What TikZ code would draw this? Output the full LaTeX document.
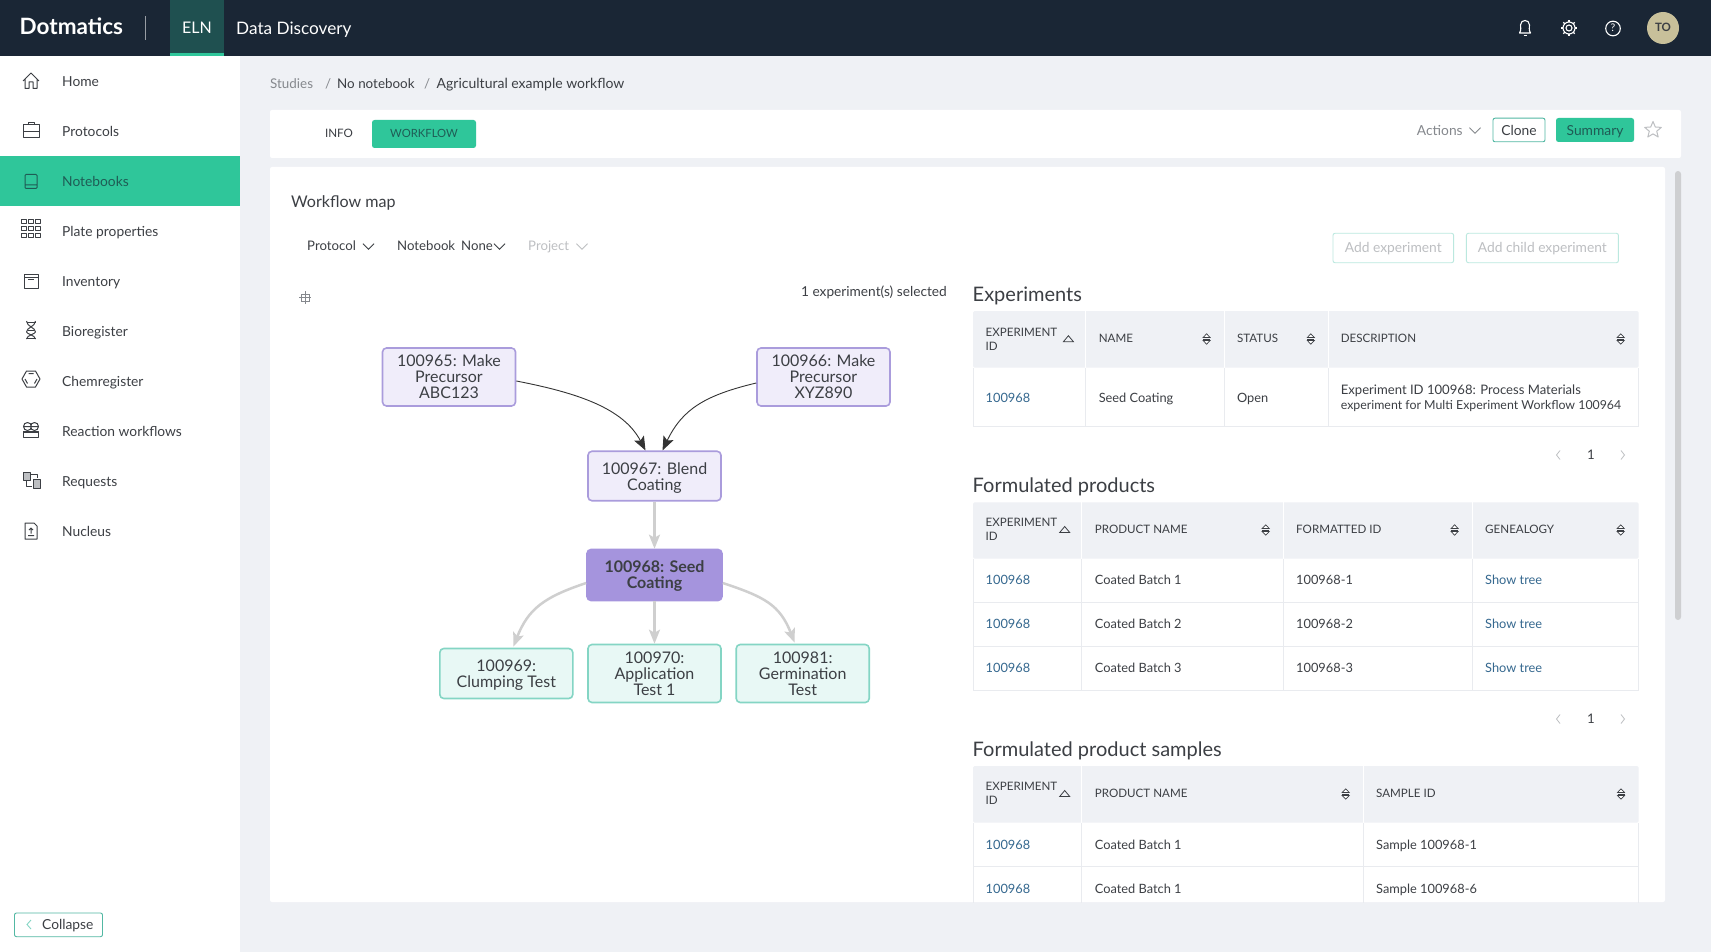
\documentclass[tikz,border=0pt]{standalone}
\usepackage{fontspec}
\setmainfont{Lato}
\usetikzlibrary{arrows.meta}
\definecolor{bar}{HTML}{1A2635}
\definecolor{tabbg}{HTML}{1F5050}
\definecolor{green}{HTML}{2FC69A}
\definecolor{page}{HTML}{EFF1F5}
\definecolor{ink}{HTML}{3C3F44}
\definecolor{soft}{HTML}{85888D}
\definecolor{faint}{HTML}{BDBFC2}
\definecolor{link}{HTML}{35688F}
\definecolor{darkteal}{HTML}{1F5C55}
\definecolor{rule}{HTML}{E9EBEF}
\definecolor{lilacfill}{HTML}{F0EDFA}
\definecolor{lilacline}{HTML}{AA9CDC}
\definecolor{lilacsel}{HTML}{A594DD}
\definecolor{tealfill}{HTML}{E8F8F5}
\definecolor{tealline}{HTML}{84D5C4}
\definecolor{btnline}{HTML}{52B8A3}
\definecolor{edgegray}{HTML}{CFCFCF}
\definecolor{edgedark}{HTML}{333333}
\definecolor{avatar}{HTML}{C8C09A}
\newcount\txtno
\newcommand{\Tx}[5][base west]{\global\advance\txtno by 1 \node[anchor=#1,inner sep=0pt,font=\fontsize{#4}{#4}\selectfont,#5] (t\the\txtno) at (#2,{#3+0.33*#4})}
\newcommand{\Chev}[3][ink]{\draw[#1,line width=.8pt] (#2-5.5,#3-2.8) -- (#2,#3+2.8) -- (#2+5.5,#3-2.8);}
\newcommand{\SortI}[2]{\draw[ink,line width=.7pt,fill=white] (#1-3.5,#2-1.5) -- (#1,#2-5.2) -- (#1+3.5,#2-1.5) -- cycle (#1-3.5,#2+1.5) -- (#1,#2+5.2) -- (#1+3.5,#2+1.5) -- cycle; \draw[ink,line width=.7pt] (#1-3.5,#2) -- (#1+3.5,#2);}
\newcommand{\AscI}[2]{\draw[ink,line width=.8pt] (#1-5,#2+3) -- (#1,#2-3) -- (#1+5,#2+3) -- cycle;}
\tikzset{
  wf/.style={rectangle,rounded corners=4pt,line width=1.6pt,inner sep=0pt,align=center,text=ink,font=\fontsize{16}{16}\selectfont},
  wflilac/.style={wf,draw=lilacline,fill=lilacfill,minimum width=133pt},
  wfsel/.style={wf,draw=lilacsel,fill=lilacsel,minimum width=135pt,minimum height=51pt,font=\fontsize{16}{16}\selectfont\bfseries},
  wfteal/.style={wf,draw=tealline,fill=tealfill,minimum width=133pt},
  darkedge/.style={edgedark,line width=.9pt,-{Stealth[length=14pt,width=11pt,inset=3pt]}},
  grayedge/.style={edgegray,line width=2.5pt,-{Stealth[length=14pt,width=11pt,inset=3pt]}},
  ic/.style={ink,line width=1pt,line join=round},
  wht/.style={white,line width=1.1pt}
}
\begin{document}
\begin{tikzpicture}[x=1pt,y=-1pt]
\useasboundingbox (0,0) rectangle (1711,952);
\fill[page] (0,0) rectangle (1711,952);
% top bar
\fill[bar] (0,0) rectangle (1711,56);
\fill[tabbg] (170,0) rectangle (224,56);
\fill[green] (170,53) rectangle (224,56);
\draw[white!55!bar,line width=.8pt] (145.5,16) -- (145.5,40);
\Tx{19.5}{27.5}{22.5}{text=white,font=\fontsize{22.5}{22.5}\selectfont\bfseries}{Dotmatics};
\Tx[base]{197}{28.5}{16}{text=white}{ELN};
\Tx{236}{28.5}{17.2}{text=white}{Data Discovery};
% right bar icons
\draw[wht,line join=round] (1519.5,33) .. controls (1521.5,30) and (1520.5,27) .. (1520.5,25) .. controls (1520.5,19) and (1529.5,19) .. (1529.5,25) .. controls (1529.5,27) and (1528.5,30) .. (1530.5,33) -- cycle;
\draw[wht] (1523.5,35.5) -- (1526.5,35.5) (1525,20.5) -- (1525,21.5);
\draw[wht] (1569,28) circle (3);
\draw[wht] (1569,28) circle (6);
\foreach \a in {0,45,...,315}{\draw[wht] (1569,28) ++(\a:6) -- ++(\a:2);}
\draw[wht] (1613,28.5) circle (7.3);
\Tx[base]{1613}{28.5}{10.5}{text=white}{?};
\fill[avatar] (1663,28) circle (16);
\Tx[base]{1663}{28}{11.5}{text=ink,font=\fontsize{11.5}{11.5}\selectfont\bfseries}{TO};
% sidebar
\fill[white] (0,56) rectangle (240,952);
\fill[green] (0,156) rectangle (240,206);
\Tx{62}{81.5}{13.8}{text=ink}{Home};
\Tx{62}{131.5}{13.8}{text=ink}{Protocols};
\Tx{62}{181.5}{13.8}{text=darkteal}{Notebooks};
\Tx{62}{231.5}{13.8}{text=ink}{Plate properties};
\Tx{62}{281.5}{13.8}{text=ink}{Inventory};
\Tx{62}{331.5}{13.8}{text=ink}{Bioregister};
\Tx{62}{381.5}{13.8}{text=ink}{Chemregister};
\Tx{62}{431.5}{13.8}{text=ink}{Reaction workflows};
\Tx{62}{481.5}{13.8}{text=ink}{Requests};
\Tx{62}{531.5}{13.8}{text=ink}{Nucleus};
% sidebar icons
\begin{scope}[shift={(31,81)},ic]
\draw (-8,0) -- (0,-8) -- (8,0) (-6,-2) -- (-6,7.5) -- (-2,7.5) -- (-2,1) -- (2,1) -- (2,7.5) -- (6,7.5) -- (6,-2);
\end{scope}
\begin{scope}[shift={(31,131)},ic]
\draw (-8,-6) rectangle (8,7) (-8,1) -- (8,1) (-3,-6) -- (-3,-8) -- (3,-8) -- (3,-6);
\end{scope}
\begin{scope}[shift={(31,181.5)},ic,darkteal]
\draw[rounded corners=1pt] (-6,-7) rectangle (6,7) (-6,3.5) -- (6,3.5);
\end{scope}
\begin{scope}[shift={(31,228.5)},ic,line width=.9pt]
\foreach \i in {-7.2,0,7.2}\foreach \j in {-7,0,7}{\draw (\i-2.5,\j-1.9) rectangle (\i+2.5,\j+1.9);}
\end{scope}
\begin{scope}[shift={(31,281)},ic]
\draw (-7,-7) rectangle (7,7) (-7,-4) -- (7,-4) (-3,-1.5) -- (3,-1.5);
\end{scope}
\begin{scope}[shift={(31,330)},ic]
\draw (-4.5,-9) .. controls (-4,-3) and (4,-3) .. (4.5,2) .. controls (4.5,4) and (-4,5) .. (-4.5,9);
\draw (4.5,-9) .. controls (4,-3) and (-4,-3) .. (-4.5,2) .. controls (-4.5,4) and (4,5) .. (4.5,9);
\draw (-4.5,-8) -- (4.5,-8) (-4.5,8) -- (4.5,8) (-3,0) -- (3,0);
\end{scope}
\begin{scope}[shift={(31,379)},ic]
\draw (-9,0) -- (-4.5,-8) -- (4.5,-8) -- (9,0) -- (4.5,8) -- (-4.5,8) -- cycle;
\draw (-2.5,-5.5) -- (2.5,-5.5) (-6,0) -- (-3.5,4.5) (6,0) -- (3.5,4.5);
\end{scope}
\begin{scope}[shift={(31,430)},ic]
\draw (-3.5,-3.5) circle (4) (3.5,-3.5) circle (4) (-7.5,-3.5) -- (7.5,-3.5);
\draw (-7.5,1) rectangle (7.5,7) (-7.5,2.8) -- (7.5,2.8);
\end{scope}
\begin{scope}[shift={(31,480)},ic]
\draw[fill=faint] (-8,-8) rectangle (-1,0);
\draw[fill=faint] (2,-1) rectangle (9,8);
\draw (-1,-6) -- (6,-6) -- (6,-2) (-5,1) -- (-5,6) -- (1,6);
\end{scope}
\begin{scope}[shift={(31,531)},ic]
\draw (-6,-8) -- (3,-8) -- (6,-5) -- (6,8) -- (-6,8) -- cycle (-3,4.5) -- (3,4.5) (0,2.5) -- (0,-3) (-2,-1) -- (0,-3) -- (2,-1);
\end{scope}
% collapse
\draw[btnline,line width=.9pt,fill=white,rounded corners=2pt] (14.5,913) rectangle (102.5,936.7);
\draw[tealline,line width=.9pt] (31,920) -- (27,924.5) -- (31,929);
\Tx{42}{925.3}{13.8}{text=ink}{Collapse};
% breadcrumb
\Tx{270}{84}{13.4}{text=soft}{Studies};
\Tx{325}{84}{13.4}{text=soft}{/};
\Tx{337}{84}{13.4}{text=ink}{No notebook};
\Tx{424}{84}{13.4}{text=soft}{/};
\Tx{436.5}{84}{14}{text=ink}{Agricultural example workflow};
% header card
\fill[white,rounded corners=2pt] (270,110) rectangle (1681,158);
\Tx[base]{339}{134}{11.6}{text=ink}{INFO};
\fill[green,rounded corners=2.5pt] (372,120) rectangle (476,148);
\Tx[base]{424}{134}{11.3}{text=darkteal}{WORKFLOW};
\Tx{1416.7}{130.5}{13.8}{text=soft}{Actions};
\Chev[soft]{1475}{130.5}
\draw[btnline,line width=.9pt,fill=white,rounded corners=2pt] (1493,118.2) rectangle (1545,141.8);
\Tx[base]{1519}{130.5}{13.8}{text=ink}{Clone};
\fill[green,rounded corners=2.5pt] (1556,118) rectangle (1634,142);
\Tx[base]{1595}{130.5}{13.8}{text=darkteal}{Summary};
\draw[faint,line width=1pt,line join=round] (1653,121.5) -- (1655.3,127) -- (1661.3,127.4) -- (1656.7,131.2) -- (1658.2,137) -- (1653,133.9) -- (1647.8,137) -- (1649.3,131.2) -- (1644.7,127.4) -- (1650.7,127) -- cycle;
% main card
\fill[white,rounded corners=2pt] (270,167) rectangle (1665,902);
\fill[faint!75!white,rounded corners=3pt] (1675,171) rectangle (1681,620);
\Tx{291}{202.5}{16.1}{text=ink}{Workflow map};
\Tx{307}{246.5}{13.2}{text=ink}{Protocol};
\Chev{368.5}{246.5}
\Tx{397}{246.5}{13.2}{text=ink}{Notebook};
\Tx{461}{246.5}{13.2}{text=ink}{None};
\Chev{499.5}{246.5}
\Tx{528}{246.5}{13.2}{text=faint}{Project};
\Chev[faint]{582}{246.5}
\draw[tealline!55!white,line width=.9pt,rounded corners=2pt] (1333,233.3) rectangle (1453.6,262.7);
\Tx[base]{1393.3}{248.3}{13.8}{text=faint}{Add experiment};
\draw[tealline!55!white,line width=.9pt,rounded corners=2pt] (1466.4,233.3) rectangle (1618.4,262.7);
\Tx[base]{1542.4}{248.3}{13.8}{text=faint}{Add child experiment};
\Tx[base east]{947}{291.7}{13.7}{text=ink}{1 experiment(s) selected};
% crosshair
\draw[soft,line width=.8pt] (301,294) rectangle (309,301.5) (305,291) -- (305,304) (299,297.7) -- (311,297.7);
% workflow nodes
\node[wflilac,minimum height=58pt] (n65) at (449,377) {100965: Make\\Precursor\\ABC123};
\node[wflilac,minimum height=58pt] (n66) at (823.5,377) {100966: Make\\Precursor\\XYZ890};
\node[wflilac,minimum height=49.5pt] (n67) at (654.5,476) {\rule{0pt}{15pt}100967: Blend\\Coating};
\node[wfsel] (n68) at (654.5,575) {\rule{0pt}{14.5pt}100968: Seed\\Coating};
\node[wfteal,minimum height=50pt] (n69) at (506.3,673.5) {\rule{0pt}{15pt}100969:\\Clumping Test};
\node[wfteal,minimum height=58pt] (n70) at (654.5,673.5) {100970:\\Application\\Test 1};
\node[wfteal,minimum height=58pt] (n81) at (802.7,673.5) {100981:\\Germination\\Test};
\draw[darkedge] ([yshift=-4pt]n65.east) .. controls +(62,12) and +(-22,-42) .. ([xshift=-9pt]n67.north);
\draw[darkedge] ([yshift=-6pt]n66.west) .. controls +(-50,12) and +(20,-42) .. ([xshift=8pt]n67.north);
\draw[grayedge] (n67.south) -- (n68.north);
\draw[grayedge] ([yshift=-8pt]n68.west) .. controls +(-42,14) and +(15,-38) .. ([xshift=7pt,yshift=1pt]n69.north);
\draw[grayedge] (n68.south) -- (n70.north);
\draw[grayedge] ([yshift=-8pt]n68.east) .. controls +(42,14) and +(-15,-38) .. ([xshift=-8pt,yshift=1pt]n81.north);
% Experiments table
\Tx{972.5}{294.5}{20}{text=ink}{Experiments};
\fill[page,rounded corners=1.5pt] (973,311) rectangle (1638.6,367.7);
\draw[rule,line width=.8pt] (973,367.7) -- (973,426.7) -- (1638.6,426.7) -- (1638.6,367.7);
\draw[white,line width=1pt] (1085.3,311) -- (1085.3,367.7) (1224.5,311) -- (1224.5,367.7) (1328.2,311) -- (1328.2,367.7);
\draw[rule,line width=.8pt] (1085.3,367.7) -- (1085.3,426.7) (1224.5,367.7) -- (1224.5,426.7) (1328.2,367.7) -- (1328.2,426.7);
\Tx{985.5}{332.3}{11.6}{text=ink}{EXPERIMENT};
\Tx{985.5}{346.3}{11.6}{text=ink}{ID};
\AscI{1068.4}{338.7}
\Tx{1098.6}{339}{11.6}{text=ink}{NAME};
\SortI{1206.6}{339}
\Tx{1236.8}{339}{11.6}{text=ink}{STATUS};
\SortI{1310.8}{339}
\Tx{1340.6}{339}{11.6}{text=ink}{DESCRIPTION};
\SortI{1620.7}{339}
\Tx{985.5}{398}{12.8}{text=link}{100968};
\Tx{1098.6}{398}{12.8}{text=ink}{Seed Coating};
\Tx{1236.8}{398}{12.8}{text=ink}{Open};
\Tx{1340.6}{390}{13.1}{text=ink}{Experiment ID 100968: Process Materials};
\Tx{1340.6}{405}{12.35}{text=ink}{experiment for Multi Experiment Workflow 100964};
\draw[faint,line width=.8pt] (1560,450.5) -- (1556.5,455) -- (1560,459.5) (1621,450.5) -- (1624.5,455) -- (1621,459.5);
\Tx[base]{1591}{455}{13.2}{text=ink}{1};
% Formulated products
\Tx{972.5}{485.5}{20}{text=ink}{Formulated products};
\fill[page,rounded corners=1.5pt] (973,502.3) rectangle (1638.6,558.7);
\draw[rule,line width=.8pt] (973,558.7) -- (973,690.3) -- (1638.6,690.3) -- (1638.6,558.7) (973,602.3) -- (1638.6,602.3) (973,646.3) -- (1638.6,646.3);
\draw[white,line width=1pt] (1081.7,502.3) -- (1081.7,558.7) (1283.3,502.3) -- (1283.3,558.7) (1472,502.3) -- (1472,558.7);
\draw[rule,line width=.8pt] (1081.7,558.7) -- (1081.7,690.3) (1283.3,558.7) -- (1283.3,690.3) (1472,558.7) -- (1472,690.3);
\Tx{985.5}{523}{11.6}{text=ink}{EXPERIMENT};
\Tx{985.5}{537}{11.6}{text=ink}{ID};
\AscI{1064.7}{529.5}
\Tx{1094.7}{530}{11.6}{text=ink}{PRODUCT NAME};
\SortI{1265.7}{530}
\Tx{1296}{530}{11.6}{text=ink}{FORMATTED ID};
\SortI{1454.6}{530}
\Tx{1485}{530}{11.6}{text=ink}{GENEALOGY};
\SortI{1620.7}{530}
\Tx{985.5}{580.7}{12.8}{text=link}{100968};
\Tx{1094.7}{580.7}{12.8}{text=ink}{Coated Batch 1};
\Tx{1296}{580.7}{12.8}{text=ink}{100968-1};
\Tx{1485}{580.7}{12.8}{text=link}{Show tree};
\Tx{985.5}{624.7}{12.8}{text=link}{100968};
\Tx{1094.7}{624.7}{12.8}{text=ink}{Coated Batch 2};
\Tx{1296}{624.7}{12.8}{text=ink}{100968-2};
\Tx{1485}{624.7}{12.8}{text=link}{Show tree};
\Tx{985.5}{668.7}{12.8}{text=link}{100968};
\Tx{1094.7}{668.7}{12.8}{text=ink}{Coated Batch 3};
\Tx{1296}{668.7}{12.8}{text=ink}{100968-3};
\Tx{1485}{668.7}{12.8}{text=link}{Show tree};
\draw[faint,line width=.8pt] (1560,714.5) -- (1556.5,719) -- (1560,723.5) (1621,714.5) -- (1624.5,719) -- (1621,723.5);
\Tx[base]{1591}{719}{13.2}{text=ink}{1};
% Formulated product samples
\Tx{972.5}{749.5}{20}{text=ink}{Formulated product samples};
\fill[page,rounded corners=1.5pt] (973,766) rectangle (1638.6,822.7);
\draw[rule,line width=.8pt] (973,822.7) -- (973,903) (1638.6,822.7) -- (1638.6,903) (973,866.7) -- (1638.6,866.7);
\draw[white,line width=1pt] (1081.7,766) -- (1081.7,822.7) (1363.3,766) -- (1363.3,822.7);
\draw[rule,line width=.8pt] (1081.7,822.7) -- (1081.7,903) (1363.3,822.7) -- (1363.3,903);
\Tx{985.5}{787}{11.6}{text=ink}{EXPERIMENT};
\Tx{985.5}{801}{11.6}{text=ink}{ID};
\AscI{1064.7}{793.5}
\Tx{1094.7}{794}{11.6}{text=ink}{PRODUCT NAME};
\SortI{1345.7}{794}
\Tx{1376}{794}{11.6}{text=ink}{SAMPLE ID};
\SortI{1621}{794}
\Tx{985.5}{845}{12.8}{text=link}{100968};
\Tx{1094.7}{845}{12.8}{text=ink}{Coated Batch 1};
\Tx{1376}{845}{12.8}{text=ink}{Sample 100968-1};
\Tx{985.5}{889}{12.8}{text=link}{100968};
\Tx{1094.7}{889}{12.8}{text=ink}{Coated Batch 1};
\Tx{1376}{889}{12.8}{text=ink}{Sample 100968-6};
\end{tikzpicture}
\end{document}
